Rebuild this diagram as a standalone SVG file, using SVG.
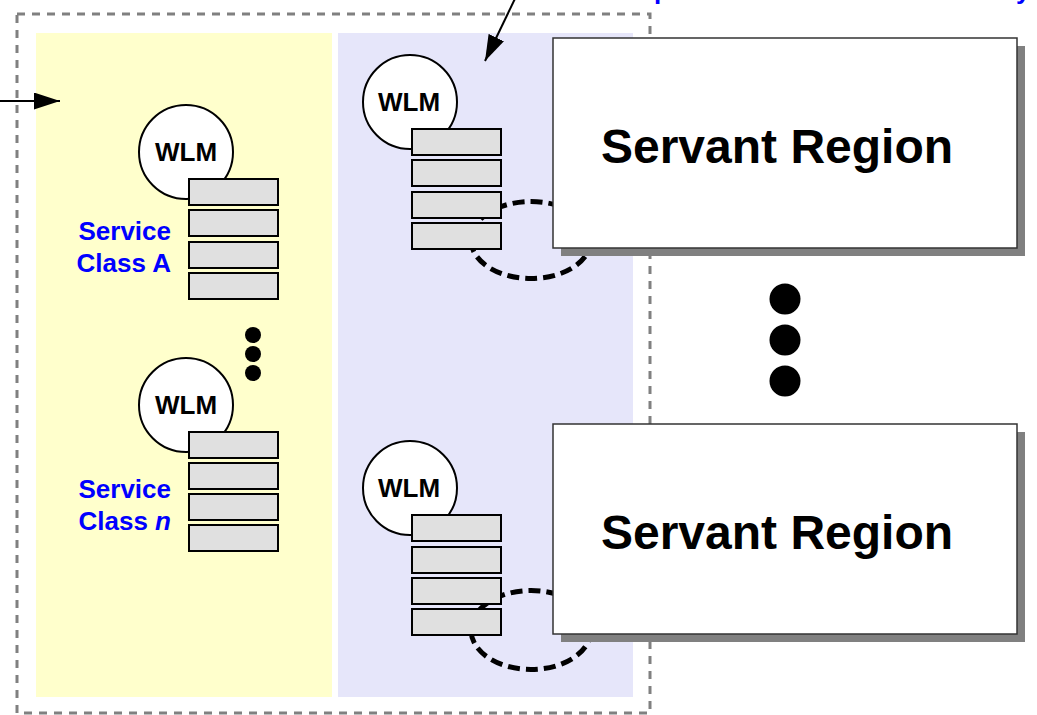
<svg xmlns="http://www.w3.org/2000/svg" width="1037" height="715" viewBox="0 0 1037 715">
<defs>
<style>
.wlm{fill:#fff;stroke:#000;stroke-width:2}
.q{fill:#e0e0e0;stroke:#000;stroke-width:2}
.t{font-family:"Liberation Sans",Arial,sans-serif;font-weight:bold}
.wt{font-size:26px;fill:#000;text-anchor:middle}
.sc{font-size:26px;fill:#0000ff;text-anchor:end}
.sr{font-size:48px;fill:#000;text-anchor:middle}
.loop{fill:none;stroke:#000;stroke-width:5;stroke-dasharray:12 6}
.sbox{fill:#fff;stroke:#333;stroke-width:1.5}
.shadow{fill:#808080}
</style>
<marker id="ah" viewBox="0 0 26 17" refX="26" refY="8.5" markerWidth="26" markerHeight="17" markerUnits="userSpaceOnUse" orient="auto">
<path d="M0,0 L26,8.5 L0,17 Z" fill="#000"/>
</marker>
</defs>
<rect width="1037" height="715" fill="#fff"/>
<text class="t" x="654" y="-1" font-size="26" fill="#0000ff">p</text>
<text class="t" x="1016" y="-1" font-size="26" fill="#0000ff">y</text>
<g id="panels">
<rect id="controller-panel" x="36" y="33" width="296" height="664" fill="#ffffcc"/>
<rect id="servant-panel" x="338" y="33" width="295" height="664" fill="#e6e6fa"/>
</g>
<rect id="boundary" x="17" y="14" width="633" height="699" fill="none" stroke="#808080" stroke-width="3" stroke-dasharray="8 7"/>
<g id="connectors">
<ellipse class="loop" cx="531" cy="240" rx="60" ry="38.5"/>
<ellipse class="loop" cx="531" cy="630" rx="60" ry="39.5"/>
<line x1="0" y1="101" x2="60" y2="101" stroke="#000" stroke-width="2" marker-end="url(#ah)"/>
<line x1="524" y1="-20" x2="485" y2="61" stroke="#000" stroke-width="2" marker-end="url(#ah)"/>
</g>
<g id="wlm-class-a">
<circle class="wlm" cx="186" cy="152" r="47"/>
<text class="t wt" x="186" y="161">WLM</text>
<rect class="q" x="189" y="179" width="89" height="26"/>
<rect class="q" x="189" y="210" width="89" height="26"/>
<rect class="q" x="189" y="242" width="89" height="26"/>
<rect class="q" x="189" y="273" width="89" height="26"/>
<text class="t sc" x="171" y="240">Service</text>
<text class="t sc" x="171" y="272">Class A</text>
</g>
<g id="class-ellipsis">
<circle cx="253" cy="335" r="8"/>
<circle cx="253" cy="354" r="8"/>
<circle cx="253" cy="373" r="8"/>
</g>
<g id="wlm-class-n">
<circle class="wlm" cx="186" cy="405" r="47"/>
<text class="t wt" x="186" y="414">WLM</text>
<rect class="q" x="189" y="432" width="89" height="26"/>
<rect class="q" x="189" y="463" width="89" height="26"/>
<rect class="q" x="189" y="494" width="89" height="26"/>
<rect class="q" x="189" y="525" width="89" height="26"/>
<text class="t sc" x="171" y="498">Service</text>
<text class="t sc" x="171" y="530">Class <tspan font-style="italic">n</tspan></text>
</g>
<g id="wlm-servant-1">
<circle class="wlm" cx="410" cy="102" r="47"/>
<text class="t wt" x="409" y="111">WLM</text>
<rect class="q" x="412" y="129" width="89" height="26"/>
<rect class="q" x="412" y="160" width="89" height="26"/>
<rect class="q" x="412" y="192" width="89" height="26"/>
<rect class="q" x="412" y="223" width="89" height="26"/>
</g>
<g id="wlm-servant-2">
<circle class="wlm" cx="410" cy="488" r="47"/>
<text class="t wt" x="409" y="497">WLM</text>
<rect class="q" x="412" y="515" width="89" height="26"/>
<rect class="q" x="412" y="547" width="89" height="26"/>
<rect class="q" x="412" y="578" width="89" height="26"/>
<rect class="q" x="412" y="609" width="89" height="26"/>
</g>
<g id="servant-region-1">
<rect class="shadow" x="561" y="46" width="464" height="210"/>
<rect class="sbox" x="553" y="38" width="464" height="210"/>
<text class="t sr" x="777" y="163">Servant Region</text>
</g>
<g id="servant-ellipsis">
<circle cx="785" cy="299" r="15.5"/>
<circle cx="785" cy="340" r="15.5"/>
<circle cx="785" cy="381" r="15.5"/>
</g>
<g id="servant-region-2">
<rect class="shadow" x="561" y="432" width="464" height="210"/>
<rect class="sbox" x="553" y="424" width="464" height="210"/>
<text class="t sr" x="777" y="549">Servant Region</text>
</g>
</svg>
